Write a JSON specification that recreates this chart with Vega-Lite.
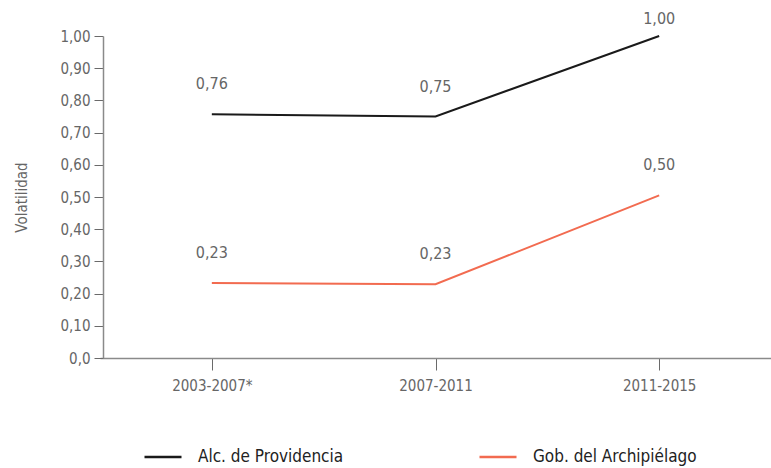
{
  "$schema": "https://vega.github.io/schema/vega-lite/v6.json",
  "width": 671,
  "height": 322,
  "autosize": {"type": "none"},
  "padding": {"left": 100, "top": 36, "right": 0, "bottom": 110},
  "background": "white",
  "config": {
    "view": {"stroke": null},
    "font": "'DejaVu Sans Condensed', 'Roboto Condensed', 'Liberation Sans'",
    "axis": {"grid": false, "domainColor": "#8a8a8a", "tickColor": "#6a6a6a", "labelColor": "#666666", "labelFont": "'DejaVu Sans Condensed', 'Roboto Condensed', 'Liberation Sans'", "titleFont": "'DejaVu Sans Condensed', 'Roboto Condensed', 'Liberation Sans'", "labelFontSize": 15, "titleFontSize": 15, "titleColor": "#666666", "titleFontWeight": "normal", "domainWidth": 1.5}
  },
  "data": {"values": [
    {"periodo": "2003-2007*", "serie": "Alc. de Providencia", "valor": 0.757, "label": "0,76"},
    {"periodo": "2007-2011", "serie": "Alc. de Providencia", "valor": 0.75, "label": "0,75"},
    {"periodo": "2011-2015", "serie": "Alc. de Providencia", "valor": 1.0, "label": "1,00"},
    {"periodo": "2003-2007*", "serie": "Gob. del Archipiélago", "valor": 0.233, "label": "0,23"},
    {"periodo": "2007-2011", "serie": "Gob. del Archipiélago", "valor": 0.229, "label": "0,23"},
    {"periodo": "2011-2015", "serie": "Gob. del Archipiélago", "valor": 0.505, "label": "0,50"}
  ]},
  "encoding": {
    "x": {"field": "periodo", "type": "nominal", "sort": null, "scale": {"type": "point", "padding": 0.5},
      "axis": {"title": null, "labelAngle": 0, "tickSize": 12, "labelPadding": 8}},
    "y": {"field": "valor", "type": "quantitative", "scale": {"domain": [0, 1], "nice": false},
      "axis": {"title": "Volatilidad", "values": [0, 0.1, 0.2, 0.3, 0.4, 0.5, 0.6, 0.7, 0.8, 0.9, 1.0], "tickSize": 9, "labelPadding": 4, "offset": -3, "titlePadding": 30,
        "labelExpr": "datum.value == 0 ? '0,0' : replace(format(datum.value, '.2f'), '.', ',')"}}
  },
  "layer": [
    {"mark": {"type": "line", "strokeWidth": 2},
     "encoding": {"color": {"field": "serie", "type": "nominal",
        "scale": {"domain": ["Alc. de Providencia", "Gob. del Archipiélago"], "range": ["#1a1a1a", "#f26b50"]},
        "legend": {"title": null, "orient": "none", "legendX": 43, "legendY": 401, "direction": "horizontal", "columns": 2, "symbolType": "stroke", "symbolSize": 1369, "symbolStrokeWidth": 2.5, "labelOffset": 15, "labelFontSize": 17, "labelColor": "#222222", "labelFont": "'DejaVu Sans Condensed', 'Roboto Condensed', 'Liberation Sans'", "columnPadding": 130, "labelLimit": 300}}}},
    {"transform": [{"filter": "datum.valor < 1"}],
     "mark": {"type": "text", "dy": -30, "fontSize": 16, "color": "#666666"},
     "encoding": {"text": {"field": "label"}}},
    {"transform": [{"filter": "datum.valor >= 1"}],
     "mark": {"type": "text", "dy": -17, "fontSize": 16, "color": "#666666"},
     "encoding": {"text": {"field": "label"}}}
  ]
}
